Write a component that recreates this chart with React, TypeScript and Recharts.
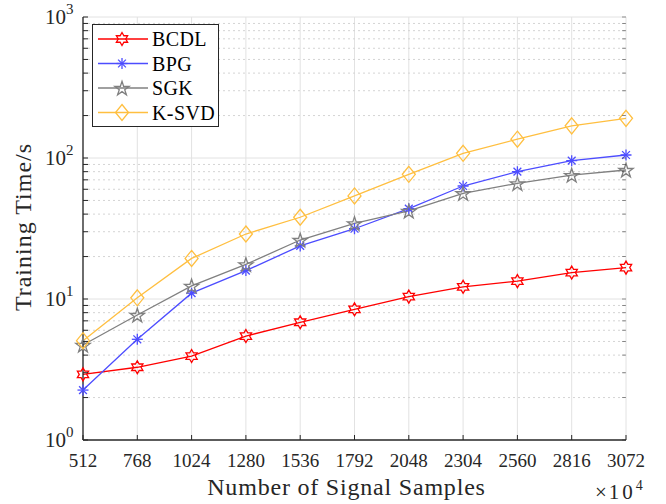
import React from "react";
import { CartesianGrid, Line, LineChart, ReferenceLine, XAxis, YAxis } from "recharts";

const samples = [512, 768, 1024, 1280, 1536, 1792, 2048, 2304, 2560, 2816, 3072];
const bcdl = [2.92, 3.28, 3.94, 5.46, 6.84, 8.45, 10.4, 12.2, 13.4, 15.4, 16.7];
const bpg = [2.26, 5.18, 11.0, 15.9, 23.8, 31.5, 43.7, 63.3, 80, 95.7, 105];
const sgk = [4.72, 7.7, 12.4, 17.6, 26.2, 34.4, 42.1, 56.2, 66.1, 75.7, 82.2];
const ksvd = [5.06, 10.2, 19.4, 28.9, 38.0, 53.8, 76.6, 108, 136, 169, 191];

const yMajor = [1, 10, 100, 1000];
const yMinor = [2, 3, 4, 5, 6, 7, 8, 9, 20, 30, 40, 50, 60, 70, 80, 90, 200, 300, 400, 500, 600, 700, 800, 900];
const yTicks = [...yMajor, ...yMinor].sort((a, b) => a - b);

const data = samples.map((n, i) => ({ n, bcdl: bcdl[i], bpg: bpg[i], sgk: sgk[i], ksvd: ksvd[i] }));

const RED = "#ff0000";
const BLUE = "#4d4dff";
const GREY = "#808080";
const ORANGE = "#ffbf40";
const AXIS = "#262626";
const FONT = "'Liberation Serif', serif";

function starPoints(cx: number, cy: number, n: number, R: number, r: number) {
  const pts: string[] = [];
  for (let i = 0; i < n * 2; i++) {
    const a = -Math.PI / 2 + (i * Math.PI) / n;
    const rad = i % 2 === 0 ? R : r;
    pts.push(`${cx + rad * Math.cos(a)},${cy + rad * Math.sin(a)}`);
  }
  return pts.join(" ");
}

const Hexagram = ({ cx, cy }: any) => (
  <polygon points={starPoints(cx, cy, 6, 6.5, 6.5 / Math.sqrt(3))} fill="none" stroke={RED} strokeWidth={1.3} />
);
const Pentagram = ({ cx, cy }: any) => (
  <polygon points={starPoints(cx, cy + 0.8, 5, 7.5, 7.5 * 0.382)} fill="none" stroke={GREY} strokeWidth={1.3} />
);
const Asterisk = ({ cx, cy }: any) => {
  const r = 5.5;
  const d = r * 0.707;
  return (
    <g stroke={BLUE} strokeWidth={1.3}>
      <line x1={cx - r} y1={cy} x2={cx + r} y2={cy} />
      <line x1={cx} y1={cy - r} x2={cx} y2={cy + r} />
      <line x1={cx - d} y1={cy - d} x2={cx + d} y2={cy + d} />
      <line x1={cx - d} y1={cy + d} x2={cx + d} y2={cy - d} />
    </g>
  );
};
const Diamond = ({ cx, cy }: any) => (
  <polygon
    points={`${cx},${cy - 8} ${cx + 6.5},${cy} ${cx},${cy + 8} ${cx - 6.5},${cy}`}
    fill="none"
    stroke={ORANGE}
    strokeWidth={1.3}
  />
);

const series = [
  { key: "bcdl", name: "BCDL", color: RED, Marker: Hexagram },
  { key: "bpg", name: "BPG", color: BLUE, Marker: Asterisk },
  { key: "sgk", name: "SGK", color: GREY, Marker: Pentagram },
  { key: "ksvd", name: "K-SVD", color: ORANGE, Marker: Diamond },
];

const YTick = ({ x, y, payload }: any) => {
  const v = payload.value;
  const major = yMajor.includes(v);
  return (
    <g>
      <line x1={x} y1={y} x2={x + 5} y2={y} stroke={AXIS} strokeWidth={1} />
      {major && (
        <text x={x - 9.5} y={y + 6.5} textAnchor="end" fontFamily={FONT} fontSize={21} fill={AXIS}>
          10
          <tspan dy={-10} fontSize={15}>
            {Math.round(Math.log10(v))}
          </tspan>
        </text>
      )}
    </g>
  );
};

const RightTick = ({ x, y }: any) => (
  <line x1={x} y1={y} x2={x - 4} y2={y} stroke={AXIS} strokeWidth={0.8} opacity={0.6} />
);

const XTick = ({ x, y, payload }: any) => (
  <g>
    <line x1={x} y1={y} x2={x} y2={y - 5} stroke={AXIS} strokeWidth={1} />
    <text x={x} y={y + 27} textAnchor="middle" fontFamily={FONT} fontSize={19} fill={AXIS}>
      {payload.value}
    </text>
  </g>
);

const XTitle = ({ viewBox }: any) => (
  <g fontFamily={FONT} fill={AXIS}>
    <text x={viewBox.x + viewBox.width / 2 - 8} y={495} textAnchor="middle" fontSize={24} letterSpacing={0.8}>
      Number of Signal Samples
    </text>
    <text x={viewBox.x + viewBox.width - 31} y={499} fontSize={21}>
      ×
      <tspan dx={2} letterSpacing={3}>
        10
      </tspan>
      <tspan dy={-9} fontSize={14}>
        4
      </tspan>
    </text>
  </g>
);

const YTitle = () => (
  <text
    x={31}
    y={227}
    transform="rotate(-90, 31, 227)"
    textAnchor="middle"
    fontFamily={FONT}
    fontSize={24}
    letterSpacing={1}
    fill={AXIS}
  >
    Training Time/s
  </text>
);

function LegendBox() {
  const rows = [39, 63.5, 88, 112.5];
  return (
    <svg width={128} height={104} style={{ position: "absolute", left: 92, top: 24 }}>
      <rect x={0.5} y={0.5} width={126} height={102} fill="#fff" stroke={AXIS} strokeWidth={1} />
      {series.map((s, i) => {
        const cy = rows[i] - 24;
        const M = s.Marker;
        return (
          <g key={s.key}>
            <line x1={6} y1={cy} x2={56} y2={cy} stroke={s.color} strokeWidth={1.3} />
            <M cx={30} cy={cy} />
            <text x={60} y={cy + 7} fontFamily={FONT} fontSize={20} letterSpacing={0.4} fill="#000">
              {s.name}
            </text>
          </g>
        );
      })}
    </svg>
  );
}

export default function App() {
  return (
    <div style={{ position: "absolute", left: 0, top: 0, width: 666, height: 504, background: "#fff" }}>
      <LineChart width={666} height={504} data={data} margin={{ top: 17, right: 39, bottom: 24, left: 23 }}>
        <CartesianGrid horizontal={false} stroke="#e2e2e2" strokeWidth={1} />
        {yMinor.map((v) => (
          <ReferenceLine key={`m${v}`} y={v} stroke="#d4d4d4" strokeDasharray="2 3" strokeWidth={1} />
        ))}
        {yMajor.slice(1).map((v) => (
          <ReferenceLine key={`M${v}`} y={v} stroke="#e2e2e2" strokeWidth={1} />
        ))}
        <XAxis
          dataKey="n"
          type="number"
          domain={[512, 3072]}
          ticks={samples}
          interval={0}
          height={40}
          tickSize={0}
          tickMargin={0}
          tickLine={false}
          tick={<XTick />}
          axisLine={{ stroke: AXIS, strokeWidth: 1.3 }}
          label={{ content: <XTitle /> }}
        />
        <YAxis
          type="number"
          scale="log"
          domain={[1, 1000]}
          allowDataOverflow
          ticks={yTicks}
          interval={0}
          width={60}
          tickSize={0}
          tickMargin={0}
          tickLine={false}
          tick={<YTick />}
          axisLine={{ stroke: AXIS, strokeWidth: 1.3 }}
          label={{ content: <YTitle /> }}
        />
        <YAxis
          yAxisId="r"
          orientation="right"
          type="number"
          scale="log"
          domain={[1, 1000]}
          allowDataOverflow
          ticks={yTicks}
          interval={0}
          width={1}
          tickSize={0}
          tickMargin={0}
          tickLine={false}
          tick={<RightTick />}
          axisLine={false}
        />
        {series.map((s) => {
          const M = s.Marker;
          return (
            <Line
              key={s.key}
              dataKey={s.key}
              name={s.name}
              stroke={s.color}
              strokeWidth={1.3}
              isAnimationActive={false}
              dot={(p: any) => <M key={`${s.key}${p.index}`} cx={p.cx} cy={p.cy} />}
              activeDot={false}
            />
          );
        })}
      </LineChart>
      <LegendBox />
    </div>
  );
}
